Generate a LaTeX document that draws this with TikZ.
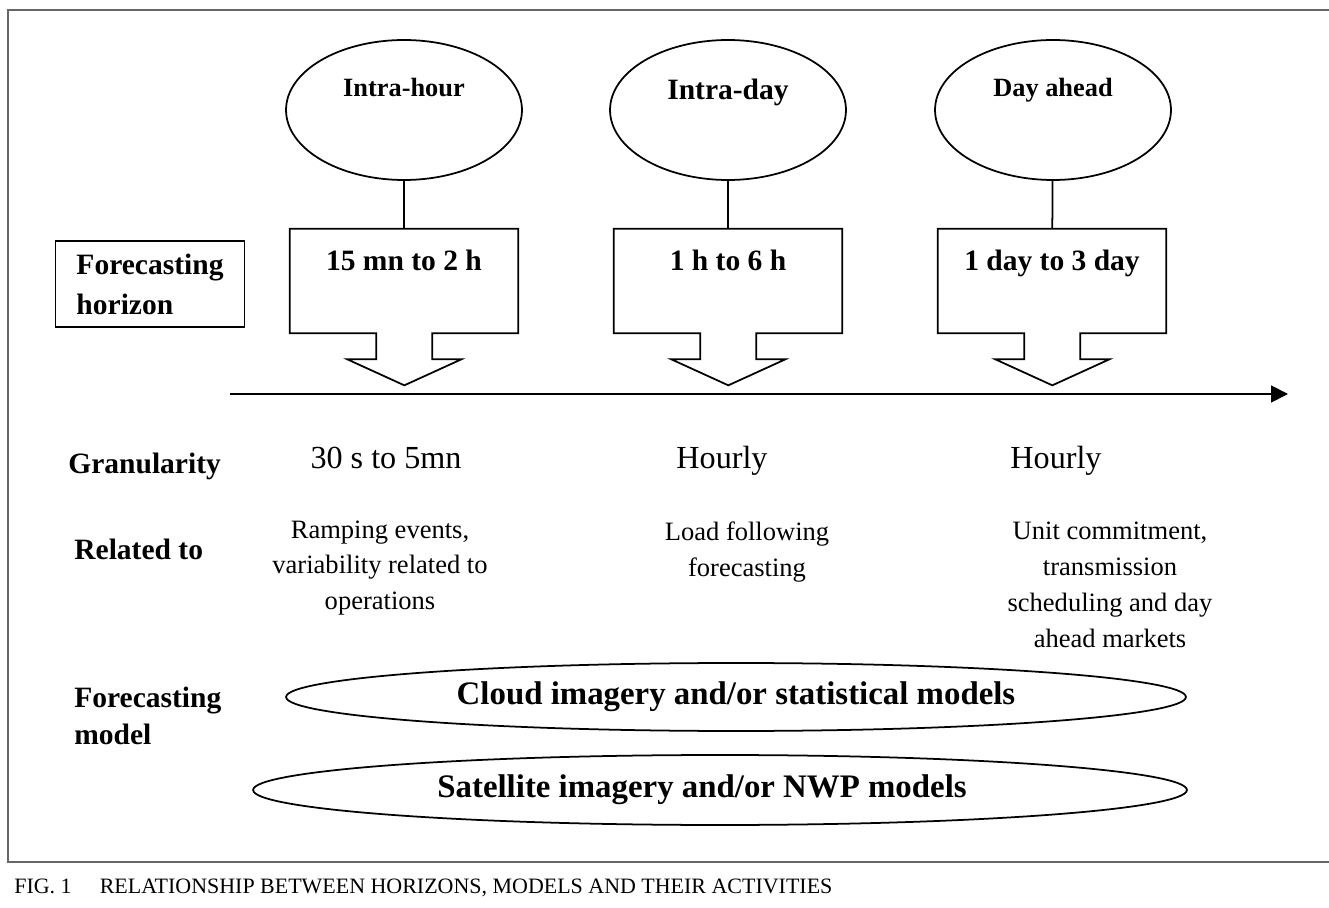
\documentclass[tikz,border=0pt]{standalone}
\usepackage{fontspec}
\setmainfont{Liberation Serif}
\usetikzlibrary{shapes.geometric,arrows.meta}

\begin{document}
\begin{tikzpicture}[x = 0.02cm, y = -0.02cm,
  every node/.style = {inner sep = 0pt},
  hor/.style = {draw, ellipse, line width = 1pt, minimum width = 4.72cm, minimum height = 2.8cm,
    font = \bfseries\fontsize{15}{18}\selectfont, text height = 0.4cm, text depth = 0.92cm},
  span/.style = {rectangle, minimum width = 4.56cm, text height = 0.84cm, text depth = 1.24cm,
    anchor = base, font = \bfseries\fontsize{16.8}{20}\selectfont},
  outline/.style = {line width = 1pt, line join = miter},
  lbl/.style = {anchor = west, align = left, font = \bfseries\fontsize{16.8}{21}\selectfont},
  gran/.style = {font = \fontsize{18.3}{22}\selectfont},
  rel/.style = {align = center, font = \fontsize{15.1}{20.4}\selectfont},
  model/.style = {draw, ellipse, line width = 1pt, font = \bfseries\fontsize{18.7}{22}\selectfont},
  frame/.style = {line width = 1.2pt, color = black!60}]
\useasboundingbox (0,0) rectangle (1329,908);
\draw[frame] (1329,10) -- (8,10) -- (8,862) -- (1329,862);

% horizons and their spans
\node (E1) [hor] at (404,110) {Intra-hour};
\node (E2) [hor, font = \bfseries\fontsize{16.8}{20}\selectfont, text depth = 0.8cm] at (728,110) {Intra-day};
\node (E3) [hor] at (1053,110) {Day ahead};
\node (B1) [span] at (404,271) {15 mn to 2 h};
\node (B2) [span] at (728,271) {1 h to 6 h};
\node (B3) [span] at (1052,271) {1 day to 3 day};
\foreach \b in {B1,B2,B3}
  \draw[outline] (\b.north west) -- (\b.north east) -- (\b.south east) -- ++(-86,0) -- ++(0,26)
    -- ++(29,0) -- ++(-57,26) -- ++(-57,-26) -- ++(29,0) -- ++(0,-26) -- (\b.south west) -- cycle;
\draw[line width = 1pt] (E1) -- (B1);
\draw[line width = 1pt] (E2) -- (B2);
\draw[line width = 1pt] (E3) -- (B3);

% time axis
\coordinate (T0) at (230,394);
\coordinate (T1) at (1288,394);
\draw[line width = 1pt, -{Triangle[length = 0.34cm, width = 0.34cm]}] (T0) -- (T1);

\node (FH) [draw, line width = 0.8pt, align = left, minimum width = 3.78cm, minimum height = 1.72cm,
  font = \bfseries\fontsize{16.8}{22.7}\selectfont] at (150,284) {Forecasting\\horizon};

% rows below the axis
\node (G) [lbl] at (68,466) {Granularity};
\node (G1) [gran] at (386,458) {30 s to 5mn};
\node (G2) [gran] at (722,461) {Hourly};
\node (G3) [gran] at (1056,461) {Hourly};

\node (R) [lbl] at (74,549) {Related to};
\node (R1) [rel] at (380,568) {Ramping events,\\variability related to\\operations};
\node (R2) [rel] at (747,552) {Load following\\forecasting};
\node (R3) [rel] at (1110,585) {Unit commitment,\\transmission\\scheduling and day\\ahead markets};

\node (F) [lbl] at (74,716) {Forecasting\\model};
\node (M1) [model, minimum width = 18cm, minimum height = 1.36cm] at (736,697) {Cloud imagery and/or statistical models};
\node (M2) [model, minimum width = 18.68cm, minimum height = 1.4cm] at (720,790) {Satellite imagery and/or NWP models\kern0.72cm};

\node (cap) [anchor = base west, font = \fontsize{12.5}{15}\selectfont] at (14,893)
  {FIG. 1\hspace{16pt}RELATIONSHIP BETWEEN HORIZONS, MODELS AND THEIR ACTIVITIES};
\end{tikzpicture}
\end{document}
